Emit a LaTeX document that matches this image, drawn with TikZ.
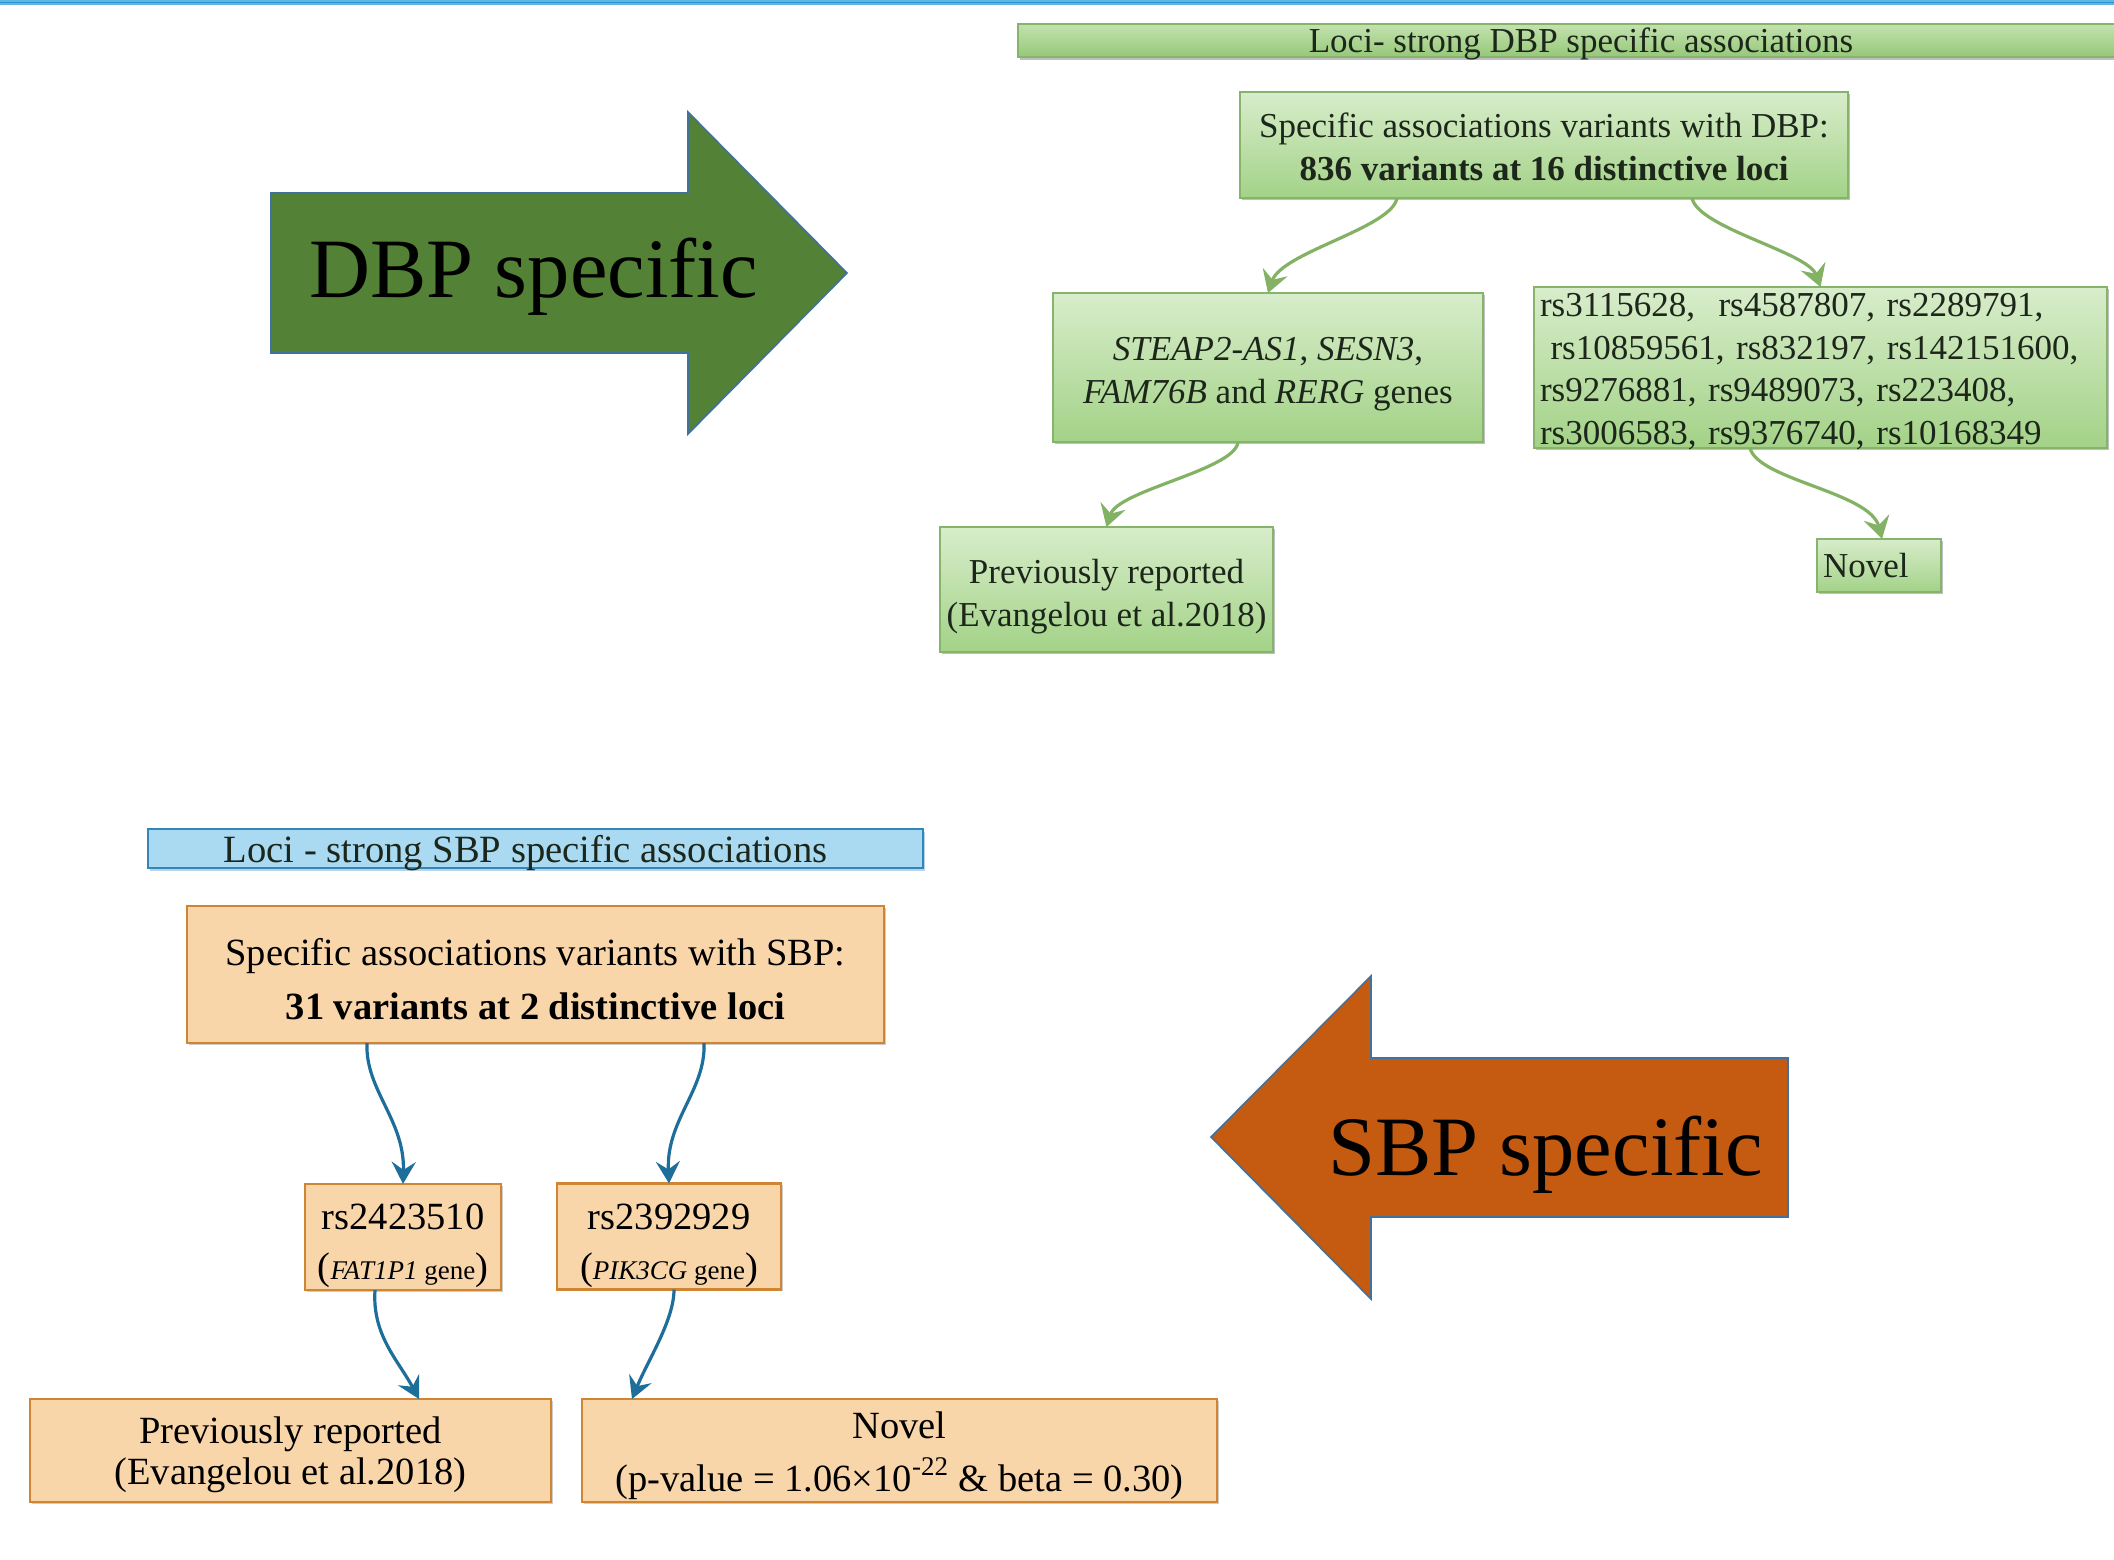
\documentclass[tikz,border=0pt]{standalone}
\usepackage{fontspec}
\setmainfont{Liberation Serif}
\usetikzlibrary{arrows.meta,calc,shadows}
\definecolor{gfillT}{HTML}{D8EDCB}
\definecolor{gfillB}{HTML}{A3D287}
\definecolor{gbanT}{HTML}{C3E2AE}
\definecolor{gbanB}{HTML}{96C878}
\definecolor{gborder}{HTML}{86B46C}
\definecolor{garrow}{HTML}{84B265}
\definecolor{ofill}{HTML}{F9D6AA}
\definecolor{oborder}{HTML}{CF8532}
\definecolor{barrow}{HTML}{1D6E9B}
\definecolor{bfill}{HTML}{A9DAF2}
\definecolor{bborder}{HTML}{3585B8}
\definecolor{dbpgreen}{HTML}{538135}
\definecolor{sbporange}{HTML}{C55A11}
\definecolor{arrowedge}{HTML}{41719C}
\definecolor{topline}{HTML}{5DB6E6}
\definecolor{toplineD}{HTML}{2E93CC}
\definecolor{txtg}{HTML}{1C261A}
\newcommand\topstrut[1]{\rule{0pt}{#1}}
\begin{document}
\begin{tikzpicture}[x=0.5pt,y=-0.5pt,
  gbox/.style={draw=gborder, line width=1.1pt, top color=gfillT, bottom color=gfillB,
    inner sep=1pt, outer sep=0pt, align=center, text=txtg,
    font=\fontsize{17.5}{21.5}\selectfont,
    drop shadow={shadow xshift=1.2pt, shadow yshift=-1.2pt, opacity=0.25, fill=black}},
  obox/.style={draw=oborder, line width=1.3pt, fill=ofill,
    inner sep=1pt, outer sep=0pt, align=center, text=black,
    font=\fontsize{19.25}{27}\selectfont,
    drop shadow={shadow xshift=0.8pt, shadow yshift=-0.8pt, opacity=0.2, fill=black}},
  garr/.style={draw=garrow, line width=1.6pt, -{Stealth[length=11pt,width=13pt,inset=4pt]}},
  barr/.style={draw=barrow, line width=1.6pt, -{Stealth[length=11pt,width=12pt,inset=4pt]}},
  bigarrow/.style={draw=arrowedge, line width=0.8pt},
  bigtext/.style={anchor=base west, inner sep=0pt, text=black, font=\fontsize{42.25}{50}\selectfont}
]
\useasboundingbox (0,0) rectangle (2114,1559);
\fill[white] (0,0) rectangle (2114,1559);

% top rule
\fill[topline] (0,0) rectangle (2114,4.5);
\draw[toplineD, line width=0.6pt] (0,2.2) -- (2114,2.2);

% ===== DBP part =====
\draw[bigarrow, fill=dbpgreen] (271,193) -- (688,193) -- (688,112) -- (847,273)
  -- (688,434) -- (688,353) -- (271,353) -- cycle;
\node[bigtext] (dbptxt) at (309,297) {DBP specific};

\node[draw=gborder, line width=1.1pt, top color=gbanT, bottom color=gbanB,
  minimum width=563pt, minimum height=16.5pt, inner sep=0pt, text depth=0pt,
  font=\fontsize{17.5}{20}\selectfont, text=txtg,
  drop shadow={shadow xshift=1pt, shadow yshift=-1.5pt, opacity=0.25, fill=black}]
  (banD) at (1581,40.5) {Loci- strong DBP specific associations};

\node[gbox, minimum width=304pt, minimum height=53pt] (mainD) at (1544,145)
  {\topstrut{14pt}Specific associations variants with DBP:\\\textbf{836 variants at 16 distinctive loci}};
\node[gbox, minimum width=215pt, minimum height=74.5pt] (geneD) at (1268,367.5)
  {\topstrut{18.6pt}\textit{STEAP2-AS1}, \textit{SESN3},\\\textit{FAM76B} and \textit{RERG} genes};
\node[gbox, minimum width=286.5pt, minimum height=80.5pt, text width=280.5pt, inner xsep=3pt,
  inner ysep=0pt, align=left, font=\fontsize{17.5}{21.2}\selectfont] (rsD) at (1820.5,367.5)
  {\topstrut{13pt}rs3115628,~ rs4587807, rs2289791,\\
   \hspace*{0.3em}rs10859561, rs832197, rs142151600,\\
   rs9276881, rs9489073, rs223408,\\
   \smash{rs3006583, rs9376740, rs10168349}};
\node[gbox, minimum width=166.5pt, minimum height=62.5pt] (prevD) at (1106.5,589.5)
  {\topstrut{19pt}Previously reported\\(Evangelou et al.2018)};
\node[gbox, minimum width=62pt, minimum height=26.5pt, text width=56pt, inner xsep=3pt,
  align=left] (novD) at (1879,565.5) {Novel};

\draw[garr] ($(mainD.south)+(-147,0)$) .. controls (1392,228) and (1282,252) .. (geneD.north);
\draw[garr] ($(mainD.south)+(148,0)$) .. controls (1698,228) and (1808,252) .. (rsD.north);
\draw[garr] ($(geneD.south)+(-30,0)$) .. controls (1235,470) and (1118,490) .. (prevD.north);
\draw[garr] ($(rsD.south)+(-70.5,0)$) .. controls (1758,480) and (1870,492) .. ($(novD.north)+(3,0)$);

% ===== SBP part =====
\draw[bigarrow, fill=sbporange] (1211,1137) -- (1371,976) -- (1371,1058) -- (1788,1058)
  -- (1788,1217) -- (1371,1217) -- (1371,1299) -- cycle;
\node[bigtext] (sbptxt) at (1328,1175) {SBP specific};

\node[draw=bborder, line width=1.3pt, fill=bfill,
  minimum width=387.5pt, minimum height=19.5pt, inner sep=0pt, text depth=0pt,
  font=\fontsize{19.3}{22}\selectfont, text=txtg,
  drop shadow={shadow xshift=1.2pt, shadow yshift=-1.5pt, opacity=0.35, fill=bborder}]
  (banS) at (535.5,848.5) {\hspace*{-10pt}Loci - strong SBP specific associations};

\node[obox, minimum width=348.5pt, minimum height=68.5pt] (mainS) at (535.5,974.5)
  {\topstrut{18.1pt}Specific associations variants with SBP:\\\textbf{31 variants at 2 distinctive loci}};
\node[obox, minimum width=98pt, minimum height=50pt, font=\fontsize{19.25}{25}\selectfont] (rs1) at (403,1237)
  {\topstrut{22pt}rs2423510\\({\fontsize{13.5}{16}\selectfont\textit{FAT1P1} gene})};
\node[obox, minimum width=112pt, minimum height=52.5pt, font=\fontsize{19.25}{25}\selectfont] (rs2) at (669,1236.5)
  {\topstrut{22pt}rs2392929\\({\fontsize{13.5}{16}\selectfont\textit{PIK3CG} gene})};
\node[obox, minimum width=260.5pt, minimum height=51.5pt, font=\fontsize{19.25}{20.5}\selectfont]
  (prevS) at (290.5,1450.5) {\topstrut{18.1pt}Previously reported\\(Evangelou et al.2018)};
\node[obox, minimum width=317.5pt, minimum height=51.5pt, font=\fontsize{19.25}{26.5}\selectfont]
  (novS) at (899.5,1450.5) {\topstrut{18.1pt}Novel\\(p-value = 1.06×10\textsuperscript{-22} \& beta = 0.30)};

\draw[barr] ($(mainS.south)+(-168.5,0)$) .. controls (365,1090) and (405,1120) .. (rs1.north);
\draw[barr] ($(mainS.south)+(168.5,0)$) .. controls (706,1090) and (666,1120) .. (rs2.north);
\draw[barr] ($(rs1.south)+(-28,0)$) .. controls (372,1335) and (398,1360) .. ($(prevS.north)+(128.5,0)$);
\draw[barr] ($(rs2.south)+(5,0)$) .. controls (674,1320) and (648,1360) .. ($(novS.north)+(-267.5,0)$);
\end{tikzpicture}
\end{document}
